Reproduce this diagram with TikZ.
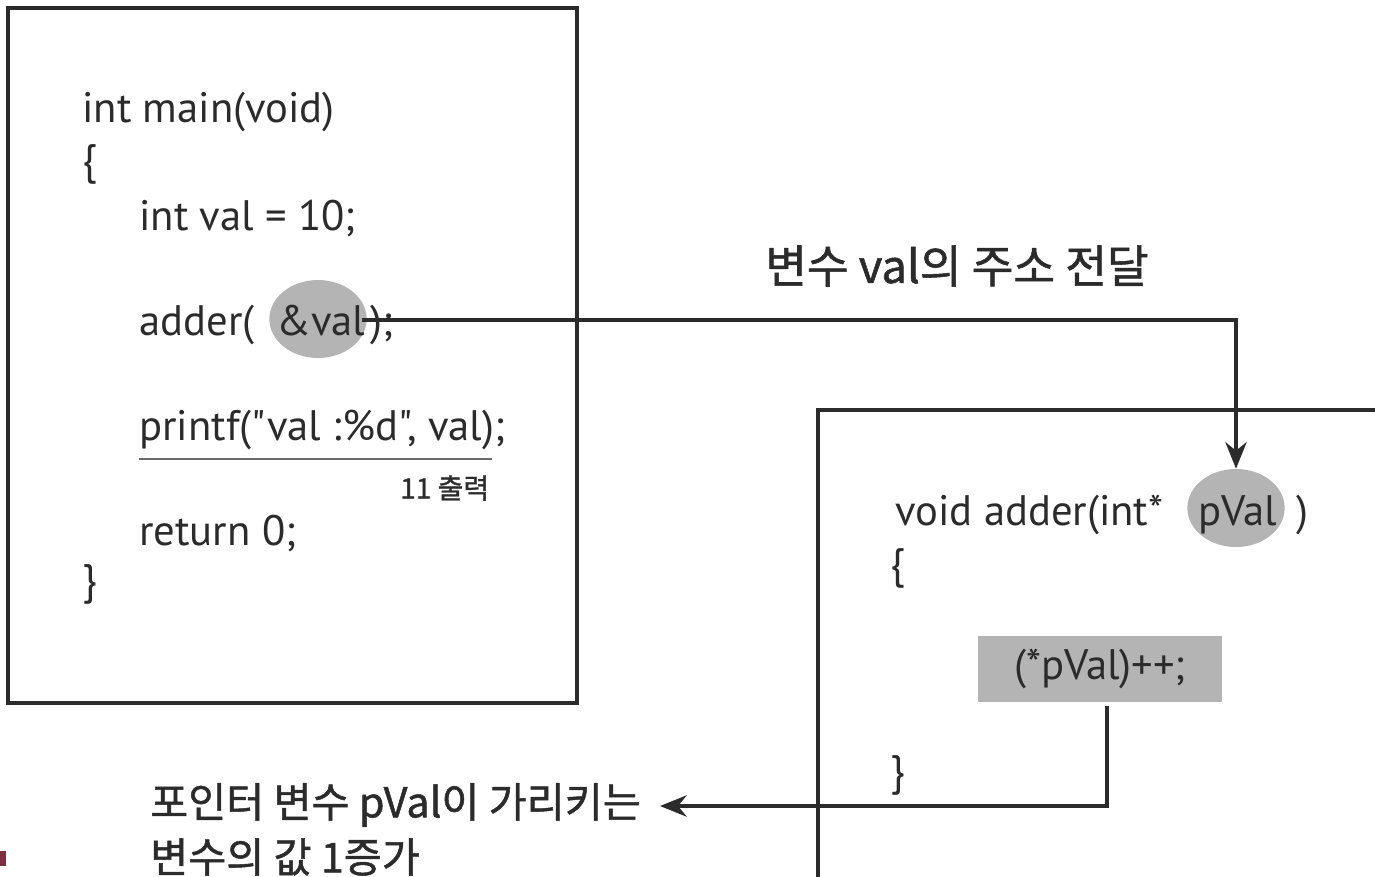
\documentclass[tikz,border=0pt]{standalone}
\usepackage{fontspec}
\setmainfont{PT Sans}[Ligatures=TeXOff]
\newfontfamily\kr[FakeBold=1.2]{Noto Sans CJK KR}
\usetikzlibrary{arrows.meta,shapes.geometric}
\definecolor{ink}{HTML}{2B2B2B}
\definecolor{shade}{HTML}{B4B4B4}
\definecolor{tabred}{HTML}{7A3040}
\newcommand{\dq}{\symbol{34}}
\begin{document}
\begin{tikzpicture}[x=0.75pt,y=-0.75pt,
  frame/.style={draw=ink,line width=2.4pt},
  code/.style={inner sep=0pt,anchor=base west,text=ink,font=\fontsize{32}{38}\selectfont},
  label/.style={inner sep=0pt,anchor=west,text=ink,font=\kr\fontsize{31}{36}\selectfont},
  conn/.style={draw=ink,line width=2.6pt,-{Stealth[length=20pt,width=16pt]}},
  blob/.style={ellipse,fill=shade,inner sep=0pt,minimum width=73pt,minimum height=58.5pt}]
\useasboundingbox (0,0) rectangle (1375,876);
% caller frame
\draw[frame] (8,8) rectangle (577,703);
% callee frame, running past the right and bottom edges
\draw[frame] (818,880) -- (818,410) -- (1380,410);
% highlighted arguments
\node[blob] (amp) at (318,319) {};
\node[blob] (pv) at (1236,508) {};
% main()
\node[code] (l1) at (82,122) {int main(void)};
\node[code] (l2) at (82,174) {\{};
\node[code] (l3) at (139,230) {int val = 10;};
\node[code] (l4) at (139,335) {adder(};
\node[code] (l4a) at (276,335) {\&val};
\node[code] (l4b) at (370,335) {);};
\node[code] (l5) at (139,440) {printf(\dq val :\%d\dq, val);};
\draw[draw=ink!70,line width=1.3pt] (139,459) -- (492,459);
\node[inner sep=0pt,anchor=west,text=ink,font=\kr\fontsize{21}{25}\selectfont] (out) at (400,488) {11 출력};
\node[code] (l6) at (139,545) {return 0;};
\node[code] (l7) at (82,594) {\}};
% adder()
\node[code] (r1) at (895,525) {void adder(int*};
\node[code] (r1a) at (1198,525) {pVal};
\node[code] (r1b) at (1296,525) {)};
\node[code] (r2) at (890,578) {\{};
\node[fill=shade,minimum width=183pt,minimum height=49.5pt,inner sep=0pt] (inc) at (1100,669) {};
\node[code,anchor=center] at (inc.center) {(*pVal)++;};
\node[code] (r3) at (890,785) {\}};
% labels
\node[label,font=\kr\fontsize{34}{40}\selectfont] (addr) at (765,266) {변수 val의 주소 전달};
\node[label] (t1) at (150,805) {포인터 변수 pVal이 가리키는};
\node[label] (t2) at (150,857) {변수의 값 1증가};
% connectors
\coordinate (s1) at (362,320);
\draw[conn] (s1) -- (1236,320) -- (pv.north);
\coordinate (s2) at (1107,706);
\coordinate (tip) at (660,806);
\draw[conn] (s2) -- (1107,806) -- (tip);
% margin tab
\fill[tabred] (0,851) rectangle (6,866);
\end{tikzpicture}
\end{document}
